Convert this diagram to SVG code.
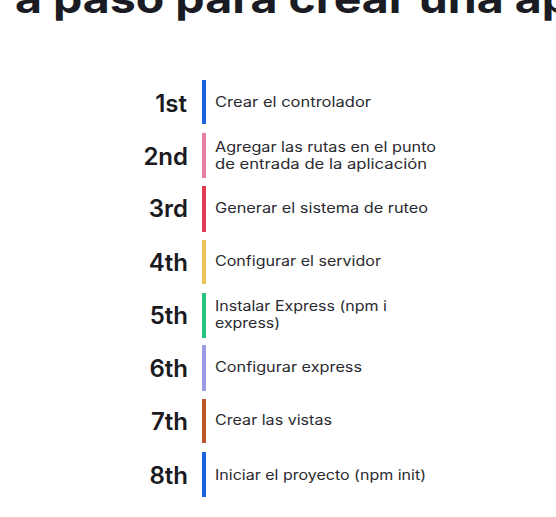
<svg xmlns="http://www.w3.org/2000/svg" width="556" height="517" viewBox="0 0 556 517">
<style>
.title{font-family:Inter,"Liberation Sans",sans-serif;font-weight:700;font-size:40px;fill:#1b1b24}
.num{font-family:Inter,"Liberation Sans",sans-serif;font-weight:600;font-size:24px;fill:#1a1a1f;text-anchor:end}
.desc{font-family:Inter,"Liberation Sans",sans-serif;font-size:14px;fill:#2a2a30}
</style>
<rect width="556" height="517" fill="#ffffff"/>
<text class="title" x="15" y="13" textLength="556" lengthAdjust="spacingAndGlyphs">a paso para crear una ap</text>
<g id="connectors"/>
<g id="step1">
<text class="num" x="187" y="112">1st</text>
<rect x="202" y="80" width="4" height="44" fill="#1d63e0"/>
<text class="desc" x="215" y="107" textLength="156" lengthAdjust="spacingAndGlyphs">Crear el controlador</text>
</g>
<g id="step2">
<text class="num" x="188" y="165">2nd</text>
<rect x="202" y="133" width="4" height="45" fill="#e680a2"/>
<text class="desc" x="215" y="152" textLength="221" lengthAdjust="spacingAndGlyphs">Agregar las rutas en el punto</text>
<text class="desc" x="215" y="169" textLength="212" lengthAdjust="spacingAndGlyphs">de entrada de la aplicación</text>
</g>
<g id="step3">
<text class="num" x="188" y="217">3rd</text>
<rect x="202" y="186" width="4" height="46" fill="#e23a54"/>
<text class="desc" x="215" y="213" textLength="213" lengthAdjust="spacingAndGlyphs">Generar el sistema de ruteo</text>
</g>
<g id="step4">
<text class="num" x="188" y="271">4th</text>
<rect x="202" y="240" width="4" height="44" fill="#eec35a"/>
<text class="desc" x="215" y="266" textLength="166" lengthAdjust="spacingAndGlyphs">Configurar el servidor</text>
</g>
<g id="step5">
<text class="num" x="188" y="324">5th</text>
<rect x="202" y="293" width="4" height="45" fill="#27c47f"/>
<text class="desc" x="215" y="311" textLength="172" lengthAdjust="spacingAndGlyphs">Instalar Express (npm i</text>
<text class="desc" x="215" y="328" textLength="65" lengthAdjust="spacingAndGlyphs">express)</text>
</g>
<g id="step6">
<text class="num" x="188" y="377">6th</text>
<rect x="202" y="345" width="4" height="46" fill="#9d98e6"/>
<text class="desc" x="215" y="372" textLength="147" lengthAdjust="spacingAndGlyphs">Configurar express</text>
</g>
<g id="step7">
<text class="num" x="188" y="430">7th</text>
<rect x="202" y="399" width="4" height="44" fill="#b8582a"/>
<text class="desc" x="215" y="425" textLength="117" lengthAdjust="spacingAndGlyphs">Crear las vistas</text>
</g>
<g id="step8">
<text class="num" x="188" y="484">8th</text>
<rect x="202" y="452" width="4" height="45" fill="#1d63e0"/>
<text class="desc" x="215" y="480" textLength="211" lengthAdjust="spacingAndGlyphs">Iniciar el proyecto (npm init)</text>
</g>
</svg>
